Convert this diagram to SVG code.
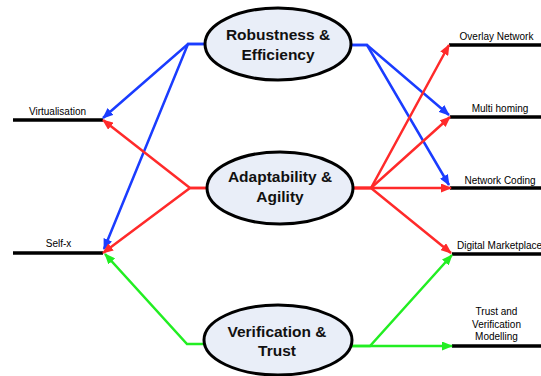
<svg xmlns="http://www.w3.org/2000/svg" width="541" height="376" viewBox="0 0 541 376">
<style>
.node ellipse{fill:#e9eef8;stroke:#000;stroke-width:3}
.nt{font-family:"Liberation Sans",Arial,sans-serif;font-weight:bold;font-size:15.5px;text-anchor:middle;fill:#111}
.lt{font-family:"Liberation Sans",Arial,sans-serif;font-size:10px;fill:#000}
.bar{stroke:#000;stroke-width:3.5}
.c{fill:none;stroke-width:2.5;stroke-linejoin:miter}
.b{stroke:#1a3cff;marker-end:url(#ab)}
.r{stroke:#ff2a2a;marker-end:url(#ar)}
.g{stroke:#22ee22;marker-end:url(#ag)}
</style>
<defs>
<marker id="ab" markerUnits="userSpaceOnUse" markerWidth="11" markerHeight="9" refX="10" refY="4.5" orient="auto"><path d="M0,0 L11,4.5 L0,9 z" fill="#1a3cff"/></marker>
<marker id="ar" markerUnits="userSpaceOnUse" markerWidth="11" markerHeight="9" refX="10" refY="4.5" orient="auto"><path d="M0,0 L11,4.5 L0,9 z" fill="#ff2a2a"/></marker>
<marker id="ag" markerUnits="userSpaceOnUse" markerWidth="11" markerHeight="9" refX="10" refY="4.5" orient="auto"><path d="M0,0 L11,4.5 L0,9 z" fill="#22ee22"/></marker>
</defs>
<rect width="541" height="376" fill="#fff"/>

<g id="targets">
<g id="virtualisation"><line class="bar" x1="13" y1="120" x2="103" y2="120"/><text class="lt" x="57.5" y="115" text-anchor="middle">Virtualisation</text></g>
<g id="selfx"><line class="bar" x1="13" y1="253" x2="103" y2="253"/><text class="lt" x="58.5" y="247" text-anchor="middle">Self-x</text></g>
<g id="overlay"><line class="bar" x1="449" y1="45" x2="541" y2="45"/><text class="lt" x="496.5" y="40" text-anchor="middle">Overlay Network</text></g>
<g id="multihoming"><line class="bar" x1="450" y1="117" x2="541" y2="117"/><text class="lt" x="500" y="112" text-anchor="middle">Multi homing</text></g>
<g id="netcoding"><line class="bar" x1="450" y1="188" x2="541" y2="188"/><text class="lt" x="500" y="184" text-anchor="middle">Network Coding</text></g>
<g id="marketplace"><line class="bar" x1="452" y1="254" x2="541" y2="254"/><text class="lt" x="457" y="249">Digital Marketplace</text></g>
<g id="trustmodel"><line class="bar" x1="452" y1="346" x2="541" y2="346"/><text class="lt" text-anchor="middle"><tspan x="496.5" y="315">Trust and</tspan><tspan x="496.5" y="328">Verification</tspan><tspan x="496.5" y="340">Modelling</tspan></text></g>
</g>

<g id="connectors">
<polyline class="c b" points="205,44 188,44 103,118"/>
<polyline class="c b" points="205,44 188,44 104,249"/>
<polyline class="c b" points="352,45 367,45 449,115"/>
<polyline class="c b" points="352,45 367,45 449,185"/>
<polyline class="c r" points="207,188 190,188 103,120"/>
<polyline class="c r" points="207,188 190,188 103,253"/>
<polyline class="c r" points="354,188 371,188 449,45"/>
<polyline class="c r" points="354,188 371,188 450,117"/>
<polyline class="c r" points="354,188 371,188 451,188"/>
<polyline class="c r" points="354,188 371,188 451,253"/>
<polyline class="c g" points="204,344 187,344 105,254"/>
<polyline class="c g" points="352,346 370,346 452,255"/>
<polyline class="c g" points="352,346 370,346 452,346"/>
</g>

<g id="robustness" class="node"><ellipse cx="278" cy="44" rx="73" ry="36"/><text class="nt"><tspan x="278" y="40">Robustness &amp;</tspan><tspan x="278" y="60">Efficiency</tspan></text></g>
<g id="adaptability" class="node"><ellipse cx="280" cy="188" rx="73" ry="36"/><text class="nt"><tspan x="280" y="182">Adaptability &amp;</tspan><tspan x="280" y="202">Agility</tspan></text></g>
<g id="verification" class="node"><ellipse cx="278" cy="340" rx="74" ry="35"/><text class="nt"><tspan x="277" y="337">Verification &amp;</tspan><tspan x="277" y="356">Trust</tspan></text></g>
</svg>
